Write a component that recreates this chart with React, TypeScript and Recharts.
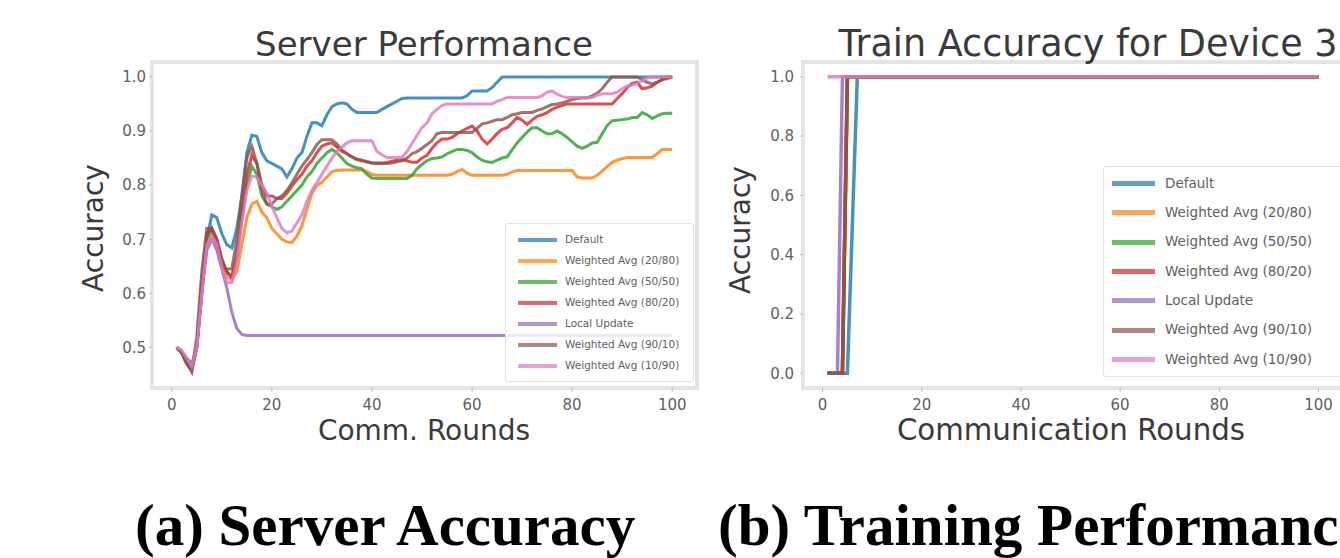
import React from 'react';
import { LineChart, Line, XAxis, YAxis, ReferenceArea } from 'recharts';

// ---------- categories ----------
const rounds = Array.from({ length: 100 }, (_, i) => i + 1);
const xTicks = [0, 20, 40, 60, 80, 100];
const serverYTicks = [0.5, 0.6, 0.7, 0.8, 0.9, 1.0];
const trainYTicks = [0, 0.2, 0.4, 0.6, 0.8, 1.0];

const seriesNames = [
  'Default',
  'Weighted Avg (20/80)',
  'Weighted Avg (50/50)',
  'Weighted Avg (80/20)',
  'Local Update',
  'Weighted Avg (90/10)',
  'Weighted Avg (10/90)',
];
const seriesColors = ['#1f77b4', '#ff7f0e', '#2ca02c', '#d62728', '#9467bd', '#8c564b', '#e377c2'];

// ---------- (a) server accuracy, rounds 1..100 ----------
const srvDefault = [
  0.50, 0.49, 0.48, 0.47, 0.50, 0.60, 0.70, 0.745, 0.74, 0.71,
  0.69, 0.684, 0.72, 0.78, 0.86, 0.892, 0.89, 0.86, 0.845, 0.84,
  0.835, 0.83, 0.815, 0.83, 0.85, 0.86, 0.89, 0.915, 0.915, 0.91,
  0.93, 0.945, 0.95, 0.952, 0.95, 0.94, 0.934, 0.934, 0.934, 0.934,
  0.934, 0.94, 0.945, 0.95, 0.955, 0.96, 0.961, 0.961, 0.961, 0.961,
  0.961, 0.961, 0.961, 0.961, 0.961, 0.961, 0.961, 0.961, 0.965, 0.974,
  0.974, 0.974, 0.974, 0.98, 0.99, 1.0, 1.0, 1.0, 1.0, 1.0,
  1.0, 1.0, 1.0, 1.0, 1.0, 1.0, 1.0, 1.0, 1.0, 1.0,
  1.0, 1.0, 1.0, 1.0, 1.0, 1.0, 1.0, 1.0, 1.0, 1.0,
  1.0, 1.0, 1.0, 1.0, 1.0, 1.0, 1.0, 1.0, 1.0, 1.0,
];
const srvW2080 = [
  0.50, 0.49, 0.47, 0.46, 0.50, 0.60, 0.69, 0.71, 0.69, 0.66,
  0.63, 0.625, 0.64, 0.69, 0.74, 0.765, 0.77, 0.75, 0.74, 0.72,
  0.71, 0.70, 0.695, 0.694, 0.705, 0.725, 0.755, 0.785, 0.80, 0.805,
  0.815, 0.825, 0.827, 0.828, 0.828, 0.828, 0.828, 0.828, 0.825, 0.82,
  0.818, 0.818, 0.818, 0.818, 0.818, 0.818, 0.818, 0.818, 0.818, 0.818,
  0.818, 0.818, 0.818, 0.818, 0.818, 0.82, 0.825, 0.829, 0.822, 0.818,
  0.818, 0.818, 0.818, 0.818, 0.818, 0.818, 0.82, 0.824, 0.827, 0.827,
  0.827, 0.827, 0.827, 0.827, 0.827, 0.827, 0.827, 0.827, 0.827, 0.827,
  0.815, 0.813, 0.813, 0.813, 0.818, 0.826, 0.834, 0.842, 0.846, 0.849,
  0.851, 0.851, 0.851, 0.851, 0.851, 0.851, 0.858, 0.866, 0.866, 0.866,
];
const srvW5050 = [
  0.50, 0.49, 0.47, 0.46, 0.50, 0.61, 0.70, 0.72, 0.70, 0.665,
  0.64, 0.63, 0.67, 0.74, 0.80, 0.835, 0.82, 0.78, 0.765, 0.76,
  0.755, 0.76, 0.77, 0.78, 0.79, 0.80, 0.815, 0.825, 0.84, 0.85,
  0.86, 0.866, 0.86, 0.85, 0.84, 0.835, 0.832, 0.83, 0.82, 0.813,
  0.812, 0.812, 0.812, 0.812, 0.812, 0.812, 0.812, 0.818, 0.83, 0.838,
  0.845, 0.849, 0.85, 0.852, 0.858, 0.862, 0.866, 0.866, 0.864, 0.86,
  0.852, 0.846, 0.843, 0.842, 0.846, 0.85, 0.852, 0.865, 0.878, 0.888,
  0.898, 0.906, 0.906, 0.90, 0.895, 0.895, 0.90, 0.895, 0.888, 0.88,
  0.872, 0.868, 0.872, 0.878, 0.879, 0.895, 0.91, 0.919, 0.92, 0.921,
  0.922, 0.925, 0.925, 0.934, 0.93, 0.923, 0.928, 0.932, 0.933, 0.933,
];
const srvW8020 = [
  0.50, 0.49, 0.47, 0.46, 0.50, 0.62, 0.71, 0.72, 0.70, 0.66,
  0.64, 0.63, 0.67, 0.75, 0.82, 0.855, 0.84, 0.80, 0.78, 0.78,
  0.775, 0.775, 0.785, 0.798, 0.81, 0.82, 0.835, 0.845, 0.86, 0.872,
  0.876, 0.878, 0.87, 0.862, 0.858, 0.852, 0.848, 0.846, 0.843, 0.841,
  0.841, 0.841, 0.842, 0.844, 0.846, 0.847, 0.845, 0.842, 0.842, 0.85,
  0.855, 0.868, 0.878, 0.885, 0.885, 0.888, 0.895, 0.90, 0.905, 0.909,
  0.90, 0.885, 0.876, 0.885, 0.895, 0.903, 0.906, 0.915, 0.925, 0.92,
  0.912, 0.92, 0.927, 0.93, 0.934, 0.94, 0.944, 0.947, 0.95, 0.95,
  0.95, 0.95, 0.95, 0.95, 0.95, 0.95, 0.95, 0.95, 0.96, 0.969,
  0.98, 0.988, 0.99, 0.978, 0.98, 0.983, 0.99, 0.995, 0.997, 1.0,
];
const srvLocal = [
  0.50, 0.49, 0.475, 0.46, 0.50, 0.60, 0.68, 0.70, 0.68, 0.645,
  0.61, 0.565, 0.535, 0.524, 0.522, 0.522, 0.522, 0.522, 0.522, 0.522,
  0.522, 0.522, 0.522, 0.522, 0.522, 0.522, 0.522, 0.522, 0.522, 0.522,
  0.522, 0.522, 0.522, 0.522, 0.522, 0.522, 0.522, 0.522, 0.522, 0.522,
  0.522, 0.522, 0.522, 0.522, 0.522, 0.522, 0.522, 0.522, 0.522, 0.522,
  0.522, 0.522, 0.522, 0.522, 0.522, 0.522, 0.522, 0.522, 0.522, 0.522,
  0.522, 0.522, 0.522, 0.522, 0.522, 0.522, 0.522, 0.522, 0.522, 0.522,
  0.522, 0.522, 0.522, 0.522, 0.522, 0.522, 0.522, 0.522, 0.522, 0.522,
  0.522, 0.522, 0.522, 0.522, 0.522, 0.522, 0.522, 0.522, 0.522, 0.522,
  0.522, 0.522, 0.522, 0.522, 0.522, 0.522, 0.522, 0.522, 0.522, 0.522,
];
const srvW9010 = [
  0.50, 0.49, 0.47, 0.454, 0.52, 0.64, 0.72, 0.72, 0.69, 0.65,
  0.645, 0.645, 0.70, 0.78, 0.85, 0.872, 0.84, 0.79, 0.765, 0.765,
  0.775, 0.78, 0.79, 0.804, 0.82, 0.835, 0.847, 0.86, 0.875, 0.884,
  0.884, 0.884, 0.876, 0.865, 0.858, 0.852, 0.847, 0.845, 0.843, 0.841,
  0.84, 0.84, 0.84, 0.841, 0.843, 0.845, 0.85, 0.858, 0.862, 0.868,
  0.875, 0.882, 0.895, 0.897, 0.897, 0.897, 0.897, 0.897, 0.897, 0.897,
  0.905, 0.913, 0.915, 0.918, 0.921, 0.921, 0.925, 0.93, 0.932, 0.934,
  0.934, 0.934, 0.938, 0.941, 0.945, 0.949, 0.95, 0.952, 0.955, 0.958,
  0.96, 0.961, 0.961, 0.965, 0.97, 0.978, 0.99, 1.0, 1.0, 1.0,
  1.0, 1.0, 1.0, 0.995, 0.99, 0.987, 0.99, 0.995, 1.0, 1.0,
];
const srvW1090 = [
  0.50, 0.495, 0.48, 0.465, 0.50, 0.60, 0.69, 0.706, 0.69, 0.65,
  0.62, 0.62, 0.66, 0.73, 0.79, 0.817, 0.815, 0.80, 0.785, 0.76,
  0.74, 0.72, 0.712, 0.715, 0.73, 0.745, 0.77, 0.79, 0.805, 0.82,
  0.835, 0.85, 0.862, 0.87, 0.878, 0.882, 0.882, 0.882, 0.882, 0.882,
  0.862, 0.856, 0.851, 0.851, 0.851, 0.851, 0.862, 0.877, 0.892, 0.906,
  0.915, 0.932, 0.94, 0.947, 0.95, 0.95, 0.95, 0.95, 0.95, 0.95,
  0.95, 0.95, 0.95, 0.95, 0.955, 0.958, 0.962, 0.962, 0.962, 0.962,
  0.962, 0.962, 0.962, 0.965, 0.972, 0.974, 0.968, 0.964, 0.962, 0.962,
  0.962, 0.962, 0.962, 0.962, 0.966, 0.969, 0.969, 0.969, 0.972, 0.978,
  0.983, 0.985, 0.988, 0.993, 0.998, 1.0, 1.0, 1.0, 1.0, 1.0,
];

// ---------- (b) train accuracy for device 3 ----------
const trainRounds = [1, 2, 3, 4, 5, 6, 7, 100];
const trnDefault = [0, 0, 0, 0, 0, 0.5, 1, 1];
const trnW2080 = [0, 0, 0, 0, 1, 1, 1, 1];
const trnW5050 = [0, 0, 0, 0, 1, 1, 1, 1];
const trnW8020 = [0, 0, 0, 0, 1, 1, 1, 1];
const trnLocal = [0, 0, 0, 1, 1, 1, 1, 1];
const trnW9010 = [0, 0, 0, 0, 1, 1, 1, 1];
const trnW1090 = [1, 1, 1, 1, 1, 1, 1, 1];

const serverSeries = [srvDefault, srvW2080, srvW5050, srvW8020, srvLocal, srvW9010, srvW1090];
const trainSeries = [trnDefault, trnW2080, trnW5050, trnW8020, trnLocal, trnW9010, trnW1090];

const serverData = rounds.map((r, i) => {
  const row: Record<string, number> = { round: r };
  serverSeries.forEach((s, k) => (row['s' + k] = s[i]));
  return row;
});
const trainData = trainRounds.map((r, i) => {
  const row: Record<string, number> = { round: r };
  trainSeries.forEach((s, k) => (row['s' + k] = s[i]));
  return row;
});

const X_DOMAIN: [number, number] = [-3.95, 104.95];
const SRV_Y: [number, number] = [0.425, 1.0275];
const TRN_Y: [number, number] = [-0.05, 1.05];

const FONT = '"DejaVu Sans", sans-serif';
const tickStyle = { fontSize: 15, fill: '#606060', fontFamily: FONT };

function lines(width: number) {
  return seriesNames.map((name, k) => (
    <Line
      key={name}
      type="linear"
      dataKey={'s' + k}
      name={name}
      stroke={seriesColors[k]}
      strokeOpacity={0.82}
      strokeWidth={width}
      dot={false}
      activeDot={false}
      isAnimationActive={false}
    />
  ));
}

function Legend({ left, top, width, rowH, padTop, swatchLeft, swatchW, swatchH, gap, fontSize }: any) {
  return (
    <div
      style={{
        position: 'absolute',
        left,
        top,
        width,
        background: 'rgba(255,255,255,0.82)',
        border: '1.5px solid #e2e2e2',
        borderRadius: 3,
        paddingTop: padTop,
        paddingBottom: padTop,
        boxSizing: 'border-box',
      }}
    >
      {seriesNames.map((name, k) => (
        <div key={name} style={{ display: 'flex', alignItems: 'center', height: rowH }}>
          <div
            style={{
              marginLeft: swatchLeft,
              width: swatchW,
              height: swatchH,
              background: seriesColors[k],
              opacity: 0.7,
              flex: 'none',
            }}
          />
          <div
            style={{
              marginLeft: gap,
              fontFamily: FONT,
              fontSize,
              color: '#606060',
              whiteSpace: 'nowrap',
              lineHeight: 1,
            }}
          >
            {name}
          </div>
        </div>
      ))}
    </div>
  );
}

function Txt({ x, y, size, children, rotate, color = '#3a3a3a' }: any) {
  return (
    <div
      style={{
        position: 'absolute',
        left: x,
        top: y,
        transform: `translate(-50%, -50%)${rotate ? ' rotate(-90deg)' : ''}`,
        fontFamily: FONT,
        fontSize: size,
        color,
        whiteSpace: 'nowrap',
        lineHeight: 1,
      }}
    >
      {children}
    </div>
  );
}

export default function App() {
  return (
    <div
      style={{
        position: 'absolute',
        left: 0,
        top: 0,
        width: 1340,
        height: 558,
        overflow: 'hidden',
        background: '#ffffff',
      }}
    >
      {/* (a) Server Performance */}
      <div style={{ position: 'absolute', left: 0, top: 0 }}>
        <LineChart width={720} height={460} data={serverData} margin={{ top: 62, right: 23, bottom: 42, left: 100 }}>
          <ReferenceArea
            x1={X_DOMAIN[0]}
            x2={X_DOMAIN[1]}
            y1={SRV_Y[0]}
            y2={SRV_Y[1]}
            fill="none"
            stroke="#e4e4e4"
            strokeWidth={4}
            ifOverflow="visible"
          />
          <XAxis
            dataKey="round"
            type="number"
            domain={X_DOMAIN}
            ticks={xTicks}
            allowDataOverflow
            axisLine={false}
            tickLine={{ stroke: '#bbb' }}
            tickSize={4}
            tickMargin={7}
            height={30}
            tick={tickStyle}
          />
          <YAxis
            type="number"
            domain={SRV_Y}
            ticks={serverYTicks}
            allowDataOverflow
            axisLine={false}
            tickLine={{ stroke: '#bbb' }}
            tickSize={3}
            tickMargin={3}
            width={52}
            tick={tickStyle}
            tickFormatter={(v: number) => v.toFixed(1)}
          />
          {lines(3)}
        </LineChart>
      </div>
      <Legend left={505} top={223} width={189} rowH={21} padTop={5} swatchLeft={12} swatchW={39} swatchH={4} gap={8} fontSize={10.5} />
      <Txt x={424} y={44} size={34}>Server Performance</Txt>
      <Txt x={424} y={431} size={28}>Comm. Rounds</Txt>
      <Txt x={94} y={228} size={28} rotate>Accuracy</Txt>

      {/* (b) Train Accuracy for Device 3 */}
      <div style={{ position: 'absolute', left: 720, top: 0 }}>
        <LineChart width={640} height={460} data={trainData} margin={{ top: 62, right: 17, bottom: 42, left: 30 }}>
          <ReferenceArea
            x1={X_DOMAIN[0]}
            x2={X_DOMAIN[1]}
            y1={TRN_Y[0]}
            y2={TRN_Y[1]}
            fill="none"
            stroke="#e4e4e4"
            strokeWidth={4}
            ifOverflow="visible"
          />
          <XAxis
            dataKey="round"
            type="number"
            domain={X_DOMAIN}
            ticks={xTicks}
            allowDataOverflow
            axisLine={false}
            tickLine={{ stroke: '#bbb' }}
            tickSize={4}
            tickMargin={7}
            height={30}
            tick={tickStyle}
          />
          <YAxis
            type="number"
            domain={TRN_Y}
            ticks={trainYTicks}
            allowDataOverflow
            axisLine={false}
            tickLine={{ stroke: '#bbb' }}
            tickSize={3}
            tickMargin={6}
            width={53}
            tick={tickStyle}
            tickFormatter={(v: number) => v.toFixed(1)}
          />
          {lines(3.5)}
        </LineChart>
      </div>
      <Legend left={1103} top={166} width={260} rowH={29.3} padTop={2} swatchLeft={8} swatchW={43} swatchH={5} gap={10} fontSize={13.5} />
      <Txt x={1088} y={44} size={36.5}>Train Accuracy for Device 3</Txt>
      <Txt x={1071} y={431} size={29.3}>Communication Rounds</Txt>
      <Txt x={741} y={230} size={28} rotate>Accuracy</Txt>

      {/* captions */}
      <div
        style={{
          position: 'absolute',
          left: 135,
          top: 496,
          fontFamily: '"Liberation Serif", serif',
          fontWeight: 'bold',
          fontSize: 59,
          lineHeight: 1,
          color: '#000',
          whiteSpace: 'nowrap',
        }}
      >
        (a) Server Accuracy
      </div>
      <div
        style={{
          position: 'absolute',
          left: 718,
          top: 496,
          fontFamily: '"Liberation Serif", serif',
          fontWeight: 'bold',
          fontSize: 59,
          lineHeight: 1,
          color: '#000',
          whiteSpace: 'nowrap',
        }}
      >
        (b) Training Performance
      </div>
    </div>
  );
}
